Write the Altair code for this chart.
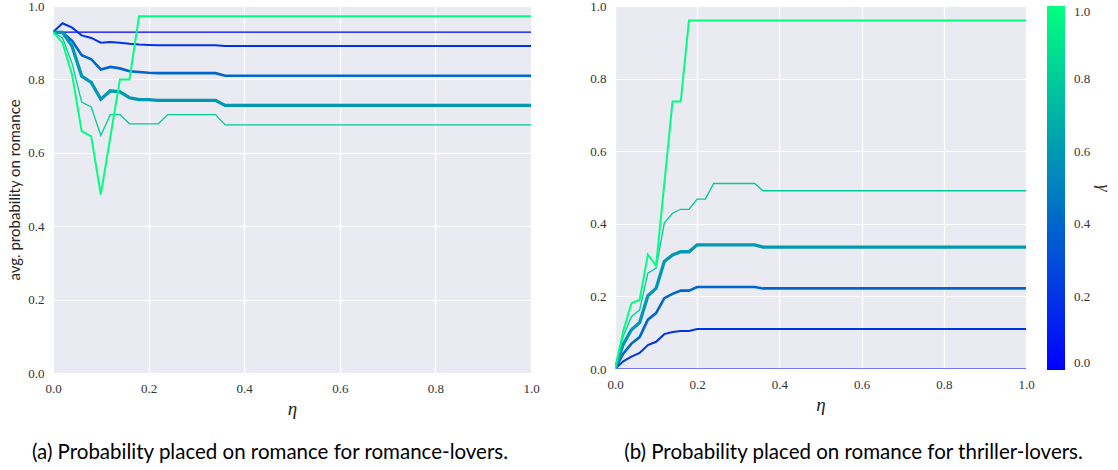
import altair as alt
import pandas as pd

# eta sample points (flat after 0.36)
ETA = [0.00, 0.02, 0.04, 0.06, 0.08, 0.10, 0.12, 0.14, 0.16, 0.18,
       0.20, 0.22, 0.24, 0.26, 0.28, 0.30, 0.32, 0.34, 0.36, 1.00]
GAMMAS = [0.0, 0.2, 0.4, 0.6, 0.8, 1.0]

# (a) romance-lovers: avg. probability on romance
ROM_G00 = [0.929, 0.929, 0.929, 0.929, 0.929, 0.929, 0.929, 0.929, 0.929, 0.929,
           0.929, 0.929, 0.929, 0.929, 0.929, 0.929, 0.929, 0.929, 0.929, 0.929]
ROM_G02 = [0.929, 0.953, 0.941, 0.920, 0.913, 0.900, 0.902, 0.900, 0.897, 0.895,
           0.894, 0.893, 0.893, 0.893, 0.893, 0.893, 0.893, 0.893, 0.891, 0.891]
ROM_G04 = [0.929, 0.928, 0.905, 0.866, 0.855, 0.827, 0.834, 0.830, 0.822, 0.820,
           0.818, 0.817, 0.817, 0.817, 0.817, 0.817, 0.817, 0.817, 0.810, 0.810]
ROM_G06 = [0.929, 0.928, 0.890, 0.809, 0.792, 0.746, 0.769, 0.766, 0.750, 0.745,
           0.745, 0.743, 0.743, 0.743, 0.743, 0.743, 0.743, 0.743, 0.729, 0.729]
ROM_G08 = [0.929, 0.913, 0.843, 0.738, 0.725, 0.647, 0.704, 0.704, 0.679, 0.679,
           0.679, 0.679, 0.704, 0.704, 0.704, 0.704, 0.704, 0.704, 0.676, 0.676]
ROM_G10 = [0.929, 0.900, 0.812, 0.659, 0.645, 0.486, 0.643, 0.800, 0.800, 0.972,
           0.972, 0.972, 0.972, 0.972, 0.972, 0.972, 0.972, 0.972, 0.972, 0.972]

# (b) thriller-lovers: avg. probability on romance
THR_G00 = [0.000, 0.000, 0.000, 0.000, 0.000, 0.000, 0.000, 0.000, 0.000, 0.000,
           0.000, 0.000, 0.000, 0.000, 0.000, 0.000, 0.000, 0.000, 0.000, 0.000]
THR_G02 = [0.000, 0.021, 0.034, 0.044, 0.066, 0.075, 0.096, 0.102, 0.105, 0.105,
           0.110, 0.110, 0.110, 0.110, 0.110, 0.110, 0.110, 0.110, 0.110, 0.110]
THR_G04 = [0.000, 0.042, 0.070, 0.088, 0.136, 0.154, 0.195, 0.207, 0.216, 0.216,
           0.226, 0.226, 0.226, 0.226, 0.226, 0.226, 0.226, 0.226, 0.222, 0.222]
THR_G06 = [0.000, 0.068, 0.108, 0.128, 0.202, 0.222, 0.296, 0.314, 0.323, 0.323,
           0.342, 0.342, 0.342, 0.342, 0.342, 0.342, 0.342, 0.342, 0.336, 0.336]
THR_G08 = [0.000, 0.090, 0.144, 0.163, 0.264, 0.278, 0.402, 0.429, 0.440, 0.440,
           0.468, 0.468, 0.511, 0.511, 0.511, 0.511, 0.511, 0.511, 0.491, 0.491]
THR_G10 = [0.000, 0.104, 0.181, 0.190, 0.315, 0.285, 0.510, 0.737, 0.737, 0.960,
           0.960, 0.960, 0.960, 0.960, 0.960, 0.960, 0.960, 0.960, 0.960, 0.960]

TICKS = [0.0, 0.2, 0.4, 0.6, 0.8, 1.0]
CAPTION_A = "(a) Probability placed on romance for romance-lovers."
CAPTION_B = "(b) Probability placed on romance for thriller-lovers."
Y_TITLE = "avg. probability on romance"

# styling (not data)
LINE_WIDTHS = [1.2, 2.0, 2.6, 3.3, 1.3, 2.0]
SERIF = "Liberation Serif"
SANS = "Lato"

color_scale = alt.Scale(domain=[0, 1], range=["#0000ff", "#00ff80"], interpolate="rgb")
legend = alt.Legend(
    orient="none", legendX=994, legendY=0, direction="vertical",
    gradientLength=364, gradientThickness=18,
    gradientStrokeWidth=0, values=TICKS, format=".1f", labelFont=SERIF,
    labelFontSize=13, labelColor="#333333", labelOffset=9, labelBaseline="middle",
    title="γ", titleOrient="right", titleAnchor="middle",
    titleFont=SERIF, titleFontStyle="italic", titleFontWeight="normal",
    titleFontSize=18, titleColor="#333333", titlePadding=4,
)


def panel(series, width, height, y_title, caption, dx, cap_offset):
    frames = []
    for g, vals in zip(GAMMAS, series):
        frames.append(pd.DataFrame({"eta": ETA, "p": vals, "gamma": [g] * len(ETA),
                                    "series": [f"g{g:.1f}"] * len(ETA)}))
    df = pd.concat(frames, ignore_index=True)
    x_axis = alt.Axis(values=TICKS, format=".1f", labelFlush=False, title="η",
                      titleFont=SERIF, titleFontStyle="italic", titleFontSize=19,
                      titleFontWeight="normal", titlePadding=4, titleColor="#222222")
    if y_title:
        y_axis = alt.Axis(values=TICKS, format=".1f", title=y_title, titleFont=SANS,
                          titleFontSize=15, titleFontWeight="normal",
                          titlePadding=5, titleColor="#262626")
    else:
        y_axis = alt.Axis(values=TICKS, format=".1f", title=None)
    series_names = [f"g{g:.1f}" for g in GAMMAS]
    return alt.Chart(df).mark_line(clip=True).encode(
        x=alt.X("eta:Q", scale=alt.Scale(domain=[0, 1], nice=False, zero=False), axis=x_axis),
        y=alt.Y("p:Q", scale=alt.Scale(domain=[0, 1], nice=False, zero=False), axis=y_axis),
        color=alt.Color("gamma:Q", scale=color_scale, legend=legend),
        strokeWidth=alt.StrokeWidth("series:N", scale=alt.Scale(type="ordinal", domain=series_names,
                                                                range=LINE_WIDTHS), legend=None),
        detail="series:N",
        order=alt.Order("eta:Q"),
    ).properties(
        width=width, height=height,
        title=alt.TitleParams(caption, orient="bottom", anchor="middle", font=SANS,
                              fontSize=20.5, fontWeight="normal", color="black",
                              offset=cap_offset, dx=dx),
    )


left = panel([ROM_G00, ROM_G02, ROM_G04, ROM_G06, ROM_G08, ROM_G10], 478, 367, Y_TITLE, CAPTION_A, -22, 25)
right = panel([THR_G00, THR_G02, THR_G04, THR_G06, THR_G08, THR_G10], 411, 363, None, CAPTION_B, 33, 29)

chart = alt.hconcat(left, right, spacing=49).properties(
    padding={"left": 7, "top": 0, "right": 5, "bottom": 0},
    background="white",
).configure_view(fill="#EAEAF2", stroke=None).configure_axis(
    grid=True, gridColor="white", gridWidth=1.2, domain=False, ticks=False, tickSize=0,
    labelFont=SERIF, labelFontSize=13, labelColor="#333333", labelPadding=9,
)

chart.save("out.html", embed_options={"renderer": "svg", "actions": False})
